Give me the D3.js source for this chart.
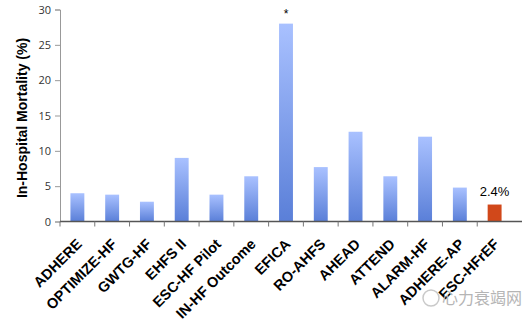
<!DOCTYPE html>
<html>
<head>
<meta charset="utf-8">
<script src="https://cdn.jsdelivr.net/npm/d3@7"></script>
<style>
  body { margin: 0; background: #fff; }
  text { font-family: "Liberation Sans", Arial, sans-serif; }
</style>
</head>
<body>
<div id="chart"></div>
<script>
let w = 528
let h = 322

// data
let registries = ["ADHERE", "OPTIMIZE-HF", "GWTG-HF", "EHFS II", "ESC-HF Pilot", "IN-HF Outcome",
  "EFICA", "RO-AHFS", "AHEAD", "ATTEND", "ALARM-HF", "ADHERE-AP", "ESC-HFrEF"]
let mortality = [4.0, 3.8, 2.8, 9.0, 3.8, 6.4, 28.0, 7.7, 12.7, 6.4, 12.0, 4.8, 2.4]
let yTicks = [0, 5, 10, 15, 20, 25, 30]
let highlight = "ESC-HFrEF"
let starred = "EFICA"

let data = registries.map((r, i) => ({name: r, value: mortality[i]}))

let svg = d3.select("#chart")
  .append("svg")
    .attr("width", w)
    .attr("height", h)
    .style("background-color", "white")

let x = d3.scaleBand()
  .domain(registries)
  .range([60, 512])
  .paddingInner(0.6)
  .paddingOuter(0.3)

let y = d3.scaleLinear()
  .domain([0, 30])
  .range([221.5, 9.5])

// gradient for the blue bars
let defs = svg.append("defs")
let grad = defs.append("linearGradient")
  .attr("id", "blueGrad")
  .attr("x1", 0).attr("y1", 0).attr("x2", 0).attr("y2", 1)
grad.append("stop").attr("offset", "0%").attr("stop-color", "#a9c1ff")
grad.append("stop").attr("offset", "100%").attr("stop-color", "#5a7fd8")

// y axis
let yAxis = svg.append("g")
  .attr("transform", "translate(60,0)")
  .call(d3.axisLeft(y).tickValues(yTicks).tickSize(5).tickPadding(4))
yAxis.select(".domain").attr("stroke", "#999")
yAxis.selectAll(".tick line").attr("stroke", "#999")
yAxis.selectAll(".tick text")
  .attr("font-size", "11px")
  .attr("fill", "#333")
  .style("font-family", "'Open Sans', 'Liberation Sans', sans-serif")

// bars
svg.selectAll("rect.bar")
  .data(data)
  .enter()
  .append("rect")
  .classed("bar", true)
  .attr("x", d => x(d.name))
  .attr("y", d => y(d.value))
  .attr("width", x.bandwidth())
  .attr("height", d => y(0) - y(d.value))
  .attr("fill", d => d.name == highlight ? "#d1481a" : "url(#blueGrad)")

// x axis line and boundary ticks
let step = x.step()
svg.append("line")
  .attr("x1", 60).attr("x2", 522)
  .attr("y1", y(0)).attr("y2", y(0))
  .attr("stroke", "#555")
  .attr("stroke-width", 1.5)
svg.selectAll("line.xtick")
  .data(registries)
  .enter()
  .append("line")
  .classed("xtick", true)
  .attr("x1", d => x(d) + x.bandwidth() / 2 - step / 2)
  .attr("x2", d => x(d) + x.bandwidth() / 2 - step / 2)
  .attr("y1", y(0))
  .attr("y2", y(0) + 5)
  .attr("stroke", "#777")

// rotated category labels
svg.selectAll("text.xlab")
  .data(registries)
  .enter()
  .append("text")
  .classed("xlab", true)
  .text(d => d)
  .attr("transform", d => "translate(" + (x(d) + x.bandwidth() / 2 + 5.5) + "," + (y(0) + 23.5) + ") rotate(-45)")
  .attr("text-anchor", "end")
  .attr("font-size", "14.5px")
  .attr("font-weight", "bold")
  .attr("fill", "black")

// y axis title
svg.append("text")
  .text("In-Hospital Mortality (%)")
  .attr("transform", "translate(27,118) rotate(-90)")
  .attr("text-anchor", "middle")
  .attr("font-size", "14px")
  .attr("font-weight", "bold")
  .attr("fill", "black")

// annotations
let star = data.find(d => d.name == starred)
svg.append("text")
  .text("*")
  .attr("x", x(star.name) + x.bandwidth() / 2)
  .attr("y", y(star.value) - 6)
  .attr("text-anchor", "middle")
  .attr("font-size", "12px")
  .attr("fill", "black")

let hl = data.find(d => d.name == highlight)
svg.append("text")
  .text(hl.value + "%")
  .attr("x", x(hl.name) + x.bandwidth() / 2)
  .attr("y", y(hl.value) - 9)
  .attr("text-anchor", "middle")
  .attr("font-size", "13px")
  .attr("fill", "black")

// watermark
svg.append("circle")
  .attr("cx", 431).attr("cy", 298).attr("r", 8)
  .attr("fill", "none")
  .attr("stroke", "#bbb")
  .attr("stroke-width", 1.5)
  .attr("opacity", 0.8)
svg.append("text")
  .text("心力衰竭网")
  .attr("x", 442)
  .attr("y", 304)
  .attr("font-size", "16px")
  .attr("fill", "#b5b5b5")
  .style("font-family", "'Noto Sans CJK SC', sans-serif")
</script>
</body>
</html>
